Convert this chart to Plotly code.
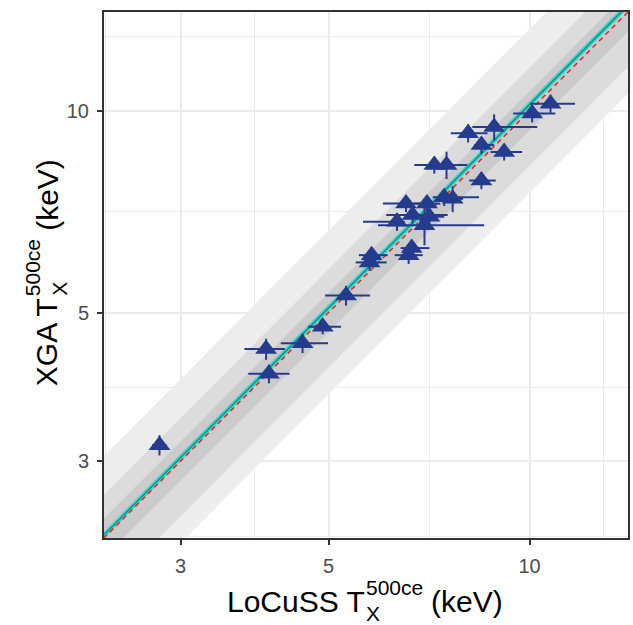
import numpy as np
import plotly.graph_objects as go

# ---- data ----
locuss    = [2.79, 4.03, 4.07, 4.57, 4.90, 5.31, 5.80, 5.76, 6.66, 6.59, 6.53, 6.33, 6.68, 7.02, 7.08, 6.96, 7.45, 7.67, 7.20, 7.51, 8.47, 8.09, 8.85, 8.47, 9.16, 10.09, 10.75]
locuss_lo = [2.72, 3.74, 3.79, 4.24, 4.66, 4.94, 5.55, 5.49, 6.41, 6.28, 6.03, 5.63, 6.10, 6.70, 6.75, 5.93, 7.16, 7.40, 6.72, 7.00, 8.12, 7.62, 8.21, 8.26, 8.74, 9.45, 10.03]
locuss_hi = [2.86, 4.30, 4.37, 4.99, 5.22, 5.77, 6.13, 6.11, 7.08, 6.92, 7.04, 6.50, 7.54, 7.35, 7.45, 8.55, 8.40, 7.95, 7.90, 8.07, 8.90, 8.65, 10.27, 8.85, 9.75, 10.93, 11.70]
xga       = [3.17, 4.41, 4.05, 4.50, 4.76, 5.30, 6.09, 5.94, 6.24, 6.09, 7.27, 6.83, 6.99, 7.27, 6.95, 6.75, 7.43, 7.39, 8.30, 8.30, 7.87, 9.26, 9.46, 8.89, 8.68, 9.91, 10.25]
xga_lo    = [3.06, 4.25, 3.92, 4.35, 4.64, 5.12, 5.92, 5.77, 6.06, 5.91, 7.06, 6.62, 6.79, 7.06, 6.75, 6.30, 7.21, 7.06, 8.06, 7.91, 7.64, 8.97, 9.03, 8.63, 8.43, 9.61, 9.93]
xga_hi    = [3.28, 4.57, 4.18, 4.65, 4.88, 5.48, 6.26, 6.11, 6.42, 6.27, 7.48, 7.04, 7.19, 7.48, 7.15, 7.20, 7.65, 7.72, 8.54, 8.69, 8.10, 9.55, 9.88, 9.15, 8.93, 10.21, 10.57]

tick_vals = [3, 5, 10]
tick_text = ["3", "5", "10"]
minor_vals = [2.32, 3.87, 7.07, 12.9]

# shaded regions around the 1:1 line (multiplicative lower / upper factors)
band_outer = [0.755, 1.325]
band_mid = [0.828, 1.16]
band_inner = [0.935, 1.07]

# fitted relation  y = norm * x**slope  and its (narrow) uncertainty factor
fit_norm = 1.004
fit_slope = 1.0075
fit_unc = 1.012

NAVY = "#253C8E"
LOGR = [0.3625, 1.1475]
FONT = "Liberation Sans, Arial, sans-serif"

xs = np.logspace(0.2, 1.3, 60)

fig = go.Figure()

def band(lo, hi, color):
    fig.add_trace(go.Scatter(
        x=np.concatenate([xs, xs[::-1]]),
        y=np.concatenate([xs * hi, (xs * lo)[::-1]]),
        fill="toself", fillcolor=color, line=dict(width=0),
        mode="lines", hoverinfo="skip", showlegend=False))

band(band_outer[0], band_outer[1], "#EDEDED")
band(band_mid[0], band_mid[1], "#DCDCDC")
band(band_inner[0], band_inner[1], "#CBCBCB")

yfit = fit_norm * xs ** fit_slope
fig.add_trace(go.Scatter(
    x=np.concatenate([xs, xs[::-1]]),
    y=np.concatenate([yfit * fit_unc, (yfit / fit_unc)[::-1]]),
    fill="toself", fillcolor="rgba(50,215,200,0.9)", line=dict(width=0),
    mode="lines", hoverinfo="skip", showlegend=False))
fig.add_trace(go.Scatter(x=xs, y=yfit, mode="lines",
                         line=dict(color="#168F8A", width=1.5),
                         hoverinfo="skip", showlegend=False))
fig.add_trace(go.Scatter(x=xs, y=xs, mode="lines",
                         line=dict(color="#FF1A1A", width=1.5, dash="5px,4px"),
                         hoverinfo="skip", showlegend=False))

lx = np.array(locuss); ly = np.array(xga)
fig.add_trace(go.Scatter(
    x=locuss, y=xga, mode="markers",
    marker=dict(symbol="triangle-up", size=19, color=NAVY, line=dict(width=0)),
    error_x=dict(type="data", symmetric=False,
                 array=np.array(locuss_hi) - lx, arrayminus=lx - np.array(locuss_lo),
                 width=0, thickness=2, color=NAVY),
    error_y=dict(type="data", symmetric=False,
                 array=np.array(xga_hi) - ly, arrayminus=ly - np.array(xga_lo),
                 width=0, thickness=2, color=NAVY),
    hoverinfo="skip", showlegend=False))

axis_common = dict(
    type="log", range=LOGR, tickmode="array", tickvals=tick_vals, ticktext=tick_text,
    showgrid=True, gridcolor="#EBEBEB", gridwidth=2,
    minor=dict(tickmode="array", tickvals=minor_vals, showgrid=True,
               gridcolor="#EBEBEB", gridwidth=1, ticklen=0),
    showline=True, mirror=True, linecolor="#333333", linewidth=2,
    ticks="outside", ticklen=5, tickwidth=2, tickcolor="#333333",
    tickfont=dict(family=FONT, size=20, color="#4D4D4D"),
    zeroline=False)

fig.update_layout(
    width=633, height=625,
    margin=dict(l=104, r=3, t=12, b=87),
    paper_bgcolor="white", plot_bgcolor="white",
    xaxis=dict(axis_common, ticklabelstandoff=4),
    yaxis=dict(axis_common, ticklabelstandoff=4),
    font=dict(family=FONT, color="black"),
    hovermode=False,
)

# axis titles (T with stacked super/subscript), positioned in pixels
PW, PH, L0, B0 = 526.0, 526.0, 104.0, 538.0
def px(x): return (x - L0) / PW
def py(y): return (B0 - y) / PH

FT, FS = 30, 21
ann = []
# x title
ann.append(dict(text="LoCuSS T", x=px(297.2), y=py(601.5), font=dict(size=FT)))
ann.append(dict(text="500ce", x=px(396.0), y=py(587), font=dict(size=FS)))
ann.append(dict(text="X", x=px(374.4), y=py(613), font=dict(size=FS)))
ann.append(dict(text="(keV)", x=px(468.8), y=py(601.5), font=dict(size=FT)))
# y title (rotated)
ann.append(dict(text="XGA T", x=px(47), y=py(342.0), textangle=-90, font=dict(size=FT)))
ann.append(dict(text="500ce", x=px(32.5), y=py(267.4), textangle=-90, font=dict(size=FS)))
ann.append(dict(text="X", x=px(58.5), y=py(289.0), textangle=-90, font=dict(size=FS)))
ann.append(dict(text="(keV)", x=px(47), y=py(194.6), textangle=-90, font=dict(size=FT)))
for a in ann:
    a.update(xref="paper", yref="paper", showarrow=False, xanchor="center", yanchor="middle")
    a["font"].update(family=FONT, color="black")
fig.update_layout(annotations=ann)

fig.write_html("out.html", config={"displayModeBar": False, "staticPlot": True},
               post_script="document.body.style.margin='0';document.body.style.overflow='hidden';")
